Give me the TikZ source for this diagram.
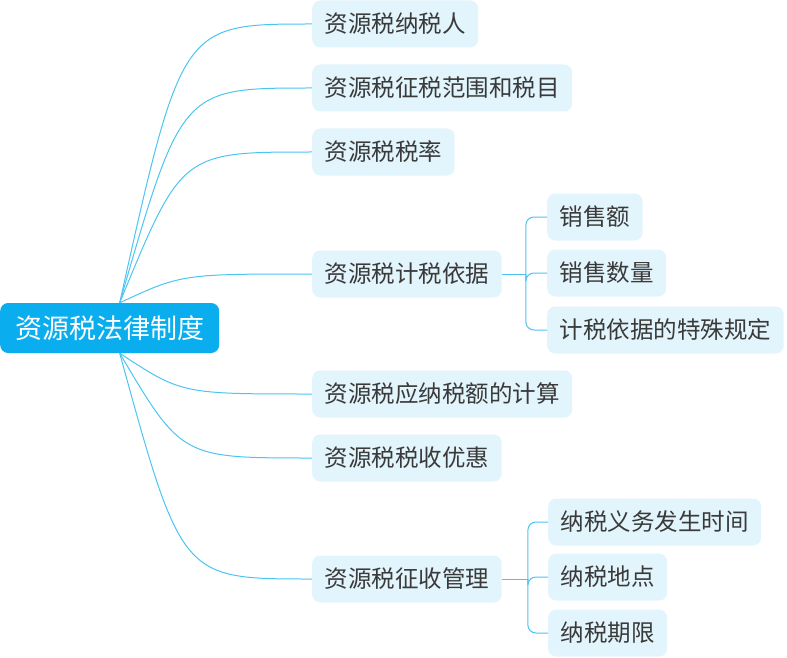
\documentclass[tikz,border=0pt]{standalone}
\usepackage{fontspec}
\newfontfamily\cjk{Noto Sans CJK SC}
\definecolor{rootblue}{HTML}{0AADEE}
\definecolor{linkblue}{HTML}{4CC4F2}
\definecolor{topicfill}{HTML}{E2F4FC}
\definecolor{topictext}{HTML}{3A3A3A}
\tikzset{
  root/.style={fill=rootblue,text=white,rounded corners=8pt,minimum height=50pt,
    inner xsep=15pt,font=\cjk\fontsize{27}{30}\selectfont,anchor=west},
  topic/.style={fill=topicfill,text=topictext,rounded corners=8pt,minimum height=47pt,
    inner xsep=12.5pt,font=\cjk\fontsize{23.5}{27}\selectfont,anchor=west},
  link/.style={draw=linkblue,line width=1pt},
}
\begin{document}
\begin{tikzpicture}[x=1pt,y=-1pt]
\useasboundingbox (0,0) rectangle (787,658);

% centre topic
\node[root] (root) at (0,328) {资源税法律制度};

% main branches
\node[topic] (c1) at (312,24) {资源税纳税人};
\node[topic] (c2) at (312,88) {资源税征税范围和税目};
\node[topic] (c3) at (312,152) {资源税税率};
\node[topic] (c4) at (312,274) {资源税计税依据};
\node[topic] (c5) at (312,394) {资源税应纳税额的计算};
\node[topic] (c6) at (312,458) {资源税税收优惠};
\node[topic] (c7) at (312,579) {资源税征收管理};

% sub topics
\node[topic] (k1) at (547,217) {销售额};
\node[topic] (k2) at (547,273) {销售数量};
\node[topic] (k3) at (547,330) {计税依据的特殊规定};
\node[topic] (m1) at (548,522) {纳税义务发生时间};
\node[topic] (m2) at (548,577) {纳税地点};
\node[topic] (m3) at (548,633) {纳税期限};

% curves out of the centre topic
\coordinate (rtop) at ([xshift=10pt]root.north);
\coordinate (rbot) at ([xshift=10pt]root.south);
\coordinate (rctl) at ([xshift=72pt]root.north);
\foreach \c in {c1,c2,c3,c4}
  \draw[link] (rtop) .. controls (rctl |- \c.west) and (rctl |- \c.west) .. (\c.west);
\foreach \c in {c5,c6,c7}
  \draw[link] (rbot) .. controls (rctl |- \c.west) and (rctl |- \c.west) .. (\c.west);

% brackets
\coordinate (j4) at ([xshift=24pt]c4.east);
\draw[link] (c4.east) -- (j4);
\foreach \k in {k1,k2,k3}
  \draw[link,rounded corners=8pt] (j4) |- (\k.west);
\coordinate (j7) at ([xshift=26pt]c7.east);
\draw[link] (c7.east) -- (j7);
\foreach \m in {m1,m2,m3}
  \draw[link,rounded corners=8pt] (j7) |- (\m.west);
\end{tikzpicture}
\end{document}
